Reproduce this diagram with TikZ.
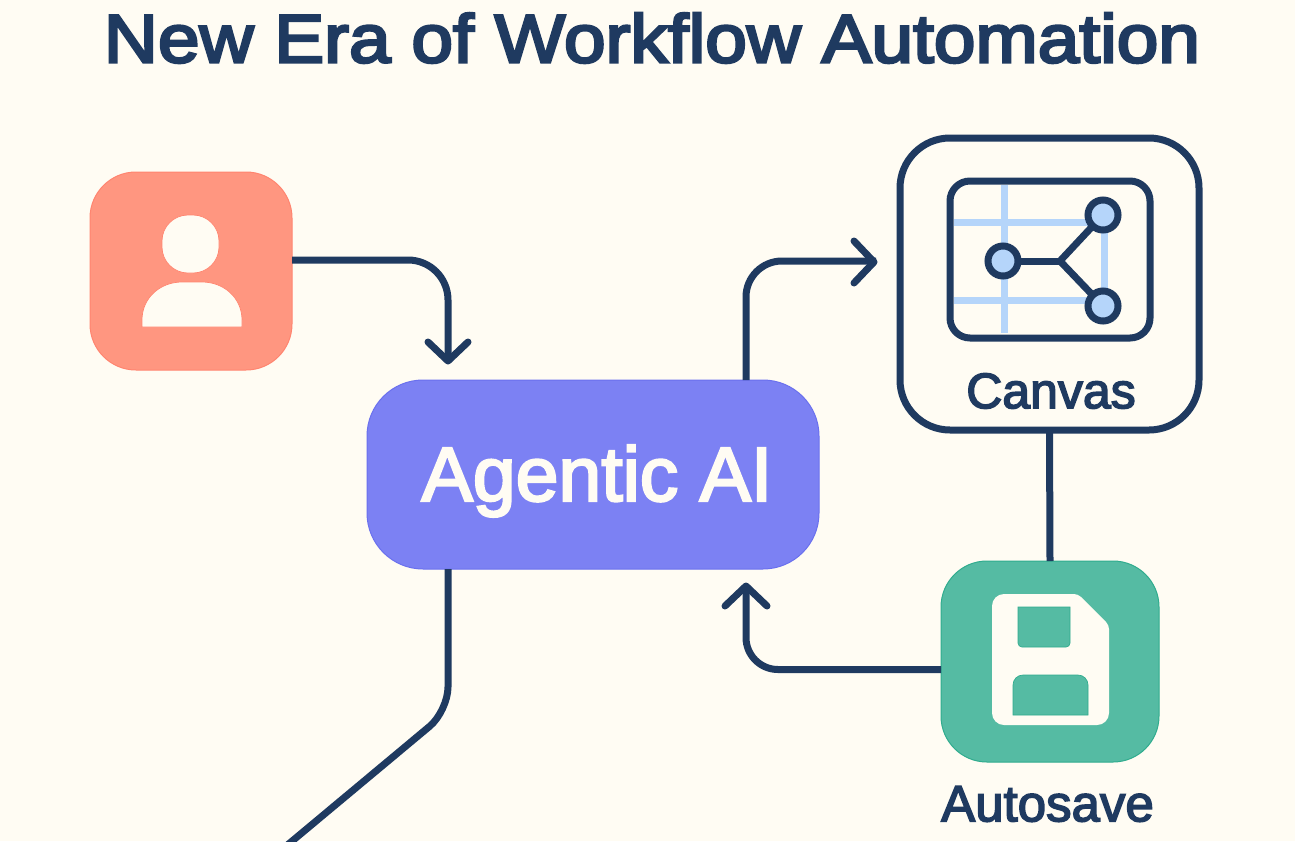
\documentclass[tikz,border=0pt]{standalone}
\usepackage{fontspec}
\setmainfont{Liberation Sans}
\newfontfamily\medfont[FakeBold=3]{Liberation Sans}
\newfontfamily\titlefont[FakeBold=4,FakeStretch=1.1]{Liberation Sans}
\usetikzlibrary{arrows.meta,positioning}
\definecolor{bgc}{HTML}{FFFCF3}
\definecolor{navy}{HTML}{1F3A60}
\definecolor{coral}{HTML}{FF9680}
\definecolor{coraledge}{HTML}{FF8570}
\definecolor{violet}{HTML}{7C81F3}
\definecolor{violetedge}{HTML}{6A70EE}
\definecolor{teal}{HTML}{55BBA3}
\definecolor{tealedge}{HTML}{30AC8E}
\definecolor{gridblue}{HTML}{B5D5FA}
\tikzset{
 box/.style={draw,rectangle,inner sep=0pt,outer sep=0pt},
 conn/.style={draw=navy,line width=7pt},
 wing/.style={draw=navy,line width=7pt,line cap=round,line join=round},
 lbl/.style={text=navy,inner sep=0pt,outer sep=0pt,anchor=center},
 gridl/.style={draw=gridblue,line width=7pt},
 dot/.style={circle,draw=navy,line width=7pt,fill=gridblue,minimum size=30pt,inner sep=0pt,outer sep=0pt},
}
\begin{document}
\begin{tikzpicture}[x=1pt,y=-1pt]
\useasboundingbox (0,0) rectangle (1295,841);
\fill[bgc] (0,0) rectangle (1295,841);
\begin{scope}
\clip (0,0) rectangle (1295,841);
% title
\node[lbl] (title) at (652,38) {\titlefont\fontsize{68}{72}\selectfont New Era of Workflow Automation};
% nodes
\node[box,draw=coraledge,fill=coral,line width=1pt,rounded corners=46pt,minimum width=202pt,minimum height=198pt] (user) at (191,271) {};
\node[box,draw=violetedge,fill=violet,line width=1pt,rounded corners=56pt,minimum width=452pt,minimum height=189pt] (ai) at (593,474.5) {};
\node[lbl,text=bgc] (ailabel) at (597,481) {\medfont\fontsize{77}{80}\selectfont Agentic AI};
\node[box,draw=navy,fill=bgc,line width=7pt,rounded corners=50pt,minimum width=299pt,minimum height=292pt] (canvas) at (1049.5,284) {};
\node[box,draw=tealedge,fill=teal,line width=1pt,rounded corners=46pt,minimum width=218pt,minimum height=201pt] (save) at (1050,661.5) {};
\node[lbl] (canvaslabel) at (1051,391) {\medfont\fontsize{50}{54}\selectfont Canvas};
\node[lbl] (savelabel) at (1047.5,804) {\medfont\fontsize{51}{54}\selectfont Autosave};
% connectors
\coordinate (off) at (285,847);
\draw[conn,rounded corners=40pt,shorten >=19pt] ([yshift=11pt]user.east) -| ([xshift=-145pt]ai.north);
\draw[wing] (428,342) -- (448,361) -- (468,342);
\draw[conn,rounded corners=36pt,shorten >=24pt] ([xshift=153pt]ai.north) |- ([yshift=23pt]canvas.west);
\draw[wing] (854,241) -- (874,262) -- (854,283);
\draw[conn,rounded corners=24pt] ([xshift=-145pt]ai.south) -- (448,711) -- (off);
\draw[conn] (canvas.south) -- (save.north);
\draw[conn,rounded corners=32pt,shorten >=17pt] ([yshift=-8pt]save.west) -| ([xshift=153pt]ai.south);
\draw[wing] (725,606) -- (746,586) -- (767,606);
% person icon
\fill[bgc,draw=coraledge,line width=.7pt,rounded corners=26pt] (162,215) rectangle (219,273);
\fill[bgc,draw=coraledge,line width=.7pt] (142,327) -- (142,320) .. controls (142,298) and (160,282) .. (182,282) -- (202,282) .. controls (224,282) and (242,298) .. (242,320) -- (242,327) -- cycle;
% canvas icon
\draw[gridl] (1004,185) -- (1004,333);
\draw[gridl] (954,222) -- (1090,222);
\draw[gridl] (954,300) -- (1090,300);
\draw[gridl] (1104,225) -- (1104,295);
\node[box,draw=navy,line width=7pt,rounded corners=20pt,minimum width=200pt,minimum height=157pt] (board) at (1050,259.5) {};
\coordinate (joint) at (1060,261);
\node[dot] (d1) at (1003,261) {};
\node[dot] (d2) at (1103,215) {};
\node[dot] (d3) at (1103,306) {};
\draw[conn] (d1) -- (joint);
\draw[conn] (d2) -- (joint) -- (d3);
% floppy icon
\fill[bgc,rounded corners=12pt] (992,660) -- (992,594) [rounded corners=4pt] -- (1078,594) -- (1109,625) [rounded corners=12pt] -- (1109,725) -- (992,725) -- cycle;
\fill[teal,draw=tealedge,line width=.7pt] (1018,607) -- (1070,607) -- (1070,643) arc[start angle=0,end angle=-90,radius=4pt] -- (1022,647) arc[start angle=-90,end angle=-180,radius=4pt] -- cycle;
\fill[teal,draw=tealedge,line width=.7pt] (1013,715) -- (1013,685) arc[start angle=180,end angle=90,radius=10pt] -- (1078,675) arc[start angle=90,end angle=0,radius=10pt] -- (1088,715) -- cycle;
\end{scope}
\end{tikzpicture}
\end{document}
